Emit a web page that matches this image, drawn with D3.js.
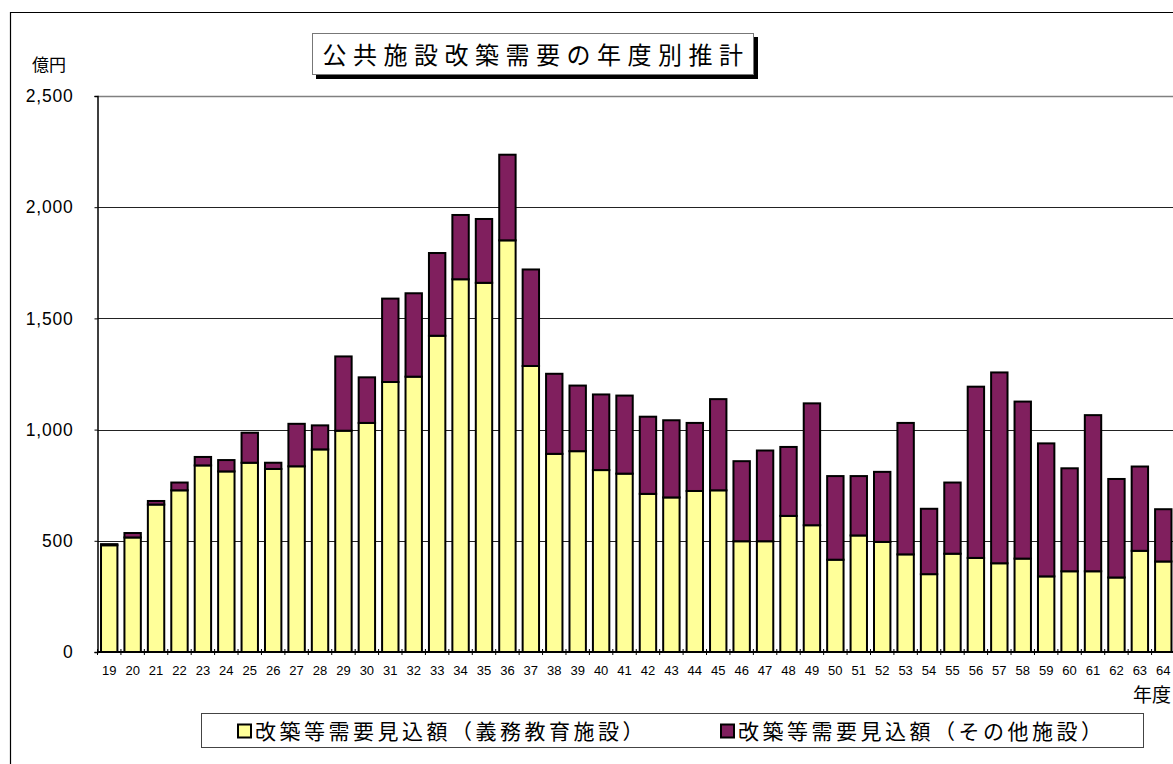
<!DOCTYPE html>
<html>
<head>
<meta charset="utf-8">
<script src="https://cdn.jsdelivr.net/npm/d3@7"></script>
<style>
  body { margin: 0; background: #fff; }
  svg { display: block; }
  .num { font-family: "Liberation Sans", Arial, sans-serif; fill: #000; }
  .jp { font-family: "Noto Sans CJK JP", sans-serif; fill: #000; }
</style>
</head>
<body>
<div id="chart"></div>
<script>
// data (億円)
var years = [19,20,21,22,23,24,25,26,27,28,29,30,31,32,33,34,35,36,37,38,39,40,41,42,43,44,45,46,47,48,49,50,51,52,53,54,55,56,57,58,59,60,61,62,63,64];
var gimuKyoiku = [480,515,663,727,839,812,851,823,835,911,995,1030,1214,1238,1422,1676,1660,1851,1286,891,903,818,802,711,695,724,727,498,498,612,570,415,524,495,439,350,442,423,399,420,340,363,363,335,455,407];
var sonota = [5,20,16,35,38,51,135,28,191,108,334,205,375,375,372,289,287,385,434,360,295,340,351,347,347,306,410,360,408,310,548,376,267,315,591,294,320,770,858,706,598,463,702,443,379,235];
var yTicks = [0,500,1000,1500,2000,2500];
var seriesNames = ["改築等需要見込額（義務教育施設）", "改築等需要見込額（その他施設）"];
var seriesColors = ["#FFFF99", "#801F5E"];
var titleText = "公共施設改築需要の年度別推計";

var W = 1173, H = 764;
var plot = {left: 97.5, right: 1175, top: 96, bottom: 652};

var svg = d3.select('#chart').append('svg')
    .attr('width', W)
    .attr('height', H);

// outer frame
svg.append('path')
    .attr('d', 'M10.5,' + H + 'V12.5H' + W)
    .attr('fill', 'none')
    .attr('stroke', '#000')
    .attr('stroke-width', 1.2);

// title box with drop shadow
svg.append('rect').attr('x', 316).attr('y', 37).attr('width', 442).attr('height', 42).attr('fill', '#000');
svg.append('rect').attr('x', 312.5).attr('y', 33.5).attr('width', 441).attr('height', 41)
    .attr('fill', '#fff').attr('stroke', '#777').attr('stroke-width', 1);
svg.append('text').attr('class', 'jp')
    .attr('x', 536).attr('y', 64)
    .attr('text-anchor', 'middle')
    .style('font-size', '24px')
    .style('letter-spacing', '6.5px')
    .text(titleText);

// scales
var x = d3.scaleBand()
    .domain(years)
    .range([plot.left, plot.right])
    .paddingInner(0.3)
    .paddingOuter(0.15);
var y = d3.scaleLinear()
    .domain([0, 2500])
    .range([plot.bottom, plot.top]);

// gridlines
svg.append('g').selectAll('line').data(yTicks.slice(1))
  .enter().append('line')
    .attr('x1', plot.left).attr('x2', W)
    .attr('y1', function(d) {return Math.round(y(d)) + 0.5;})
    .attr('y2', function(d) {return Math.round(y(d)) + 0.5;})
    .attr('stroke', function(d) {return d === 2500 ? '#808080' : '#222';})
    .attr('stroke-width', function(d) {return d === 2500 ? 1.5 : 1;});

// stacked bars
var rows = years.map(function(yr, i) {return {year: yr, a: gimuKyoiku[i], b: sonota[i]};});
var stack = d3.stack().keys(['a', 'b'])(rows);

svg.append('g').selectAll('g').data(stack)
  .enter().append('g')
    .attr('fill', function(d, i) {return seriesColors[i];})
  .selectAll('rect').data(function(d) {return d;})
  .enter().append('rect')
    .attr('x', function(d) {return x(d.data.year);})
    .attr('y', function(d) {return y(d[1]);})
    .attr('width', x.bandwidth())
    .attr('height', function(d) {return y(d[0]) - y(d[1]);})
    .attr('stroke', '#000')
    .attr('stroke-width', 2);

// y axis
var yAxis = d3.axisLeft(y).tickValues(yTicks).tickFormat(d3.format(',')).tickSize(3).tickPadding(21);
var gy = svg.append('g')
    .attr('transform', 'translate(' + plot.left + ',0)')
    .call(yAxis);
gy.select('.domain').attr('stroke', '#000').attr('stroke-width', 1.5);
gy.selectAll('.tick line').attr('stroke', '#000');
gy.selectAll('text').attr('class', 'num').style('font-size', '17.5px').style('letter-spacing', '0.8px');

// x axis
var xAxis = d3.axisBottom(x).tickSize(0).tickPadding(14);
var gx = svg.append('g')
    .attr('transform', 'translate(0,' + plot.bottom + ')')
    .call(xAxis);
gx.select('.domain').attr('d', 'M' + plot.left + ',0H' + W).attr('stroke', '#000').attr('stroke-width', 2);
gx.selectAll('text').attr('class', 'num').style('font-size', '13px');

// small tick marks between categories
var step = x.step();
svg.append('g').selectAll('line').data(years)
  .enter().append('line')
    .attr('x1', function(d) {return x(d) - step * 0.15;})
    .attr('x2', function(d) {return x(d) - step * 0.15;})
    .attr('y1', plot.bottom - 3)
    .attr('y2', plot.bottom + 3)
    .attr('stroke', '#000');

// unit labels
svg.append('text').attr('class', 'jp')
    .attr('x', 32).attr('y', 71)
    .style('font-size', '17px')
    .text('億円');
svg.append('text').attr('class', 'jp')
    .attr('x', 1171).attr('y', 702)
    .attr('text-anchor', 'end')
    .style('font-size', '19px')
    .text('年度');

// legend
var legend = svg.append('g');
legend.append('rect')
    .attr('x', 201.5).attr('y', 713.5).attr('width', 942).attr('height', 34)
    .attr('fill', '#fff').attr('stroke', '#444').attr('stroke-width', 1);
var legendX = [237, 720];
var items = legend.selectAll('g.item').data(seriesNames)
  .enter().append('g')
    .attr('transform', function(d, i) {return 'translate(' + legendX[i] + ',731)';});
items.append('rect')
    .attr('x', 1).attr('y', -6.5).attr('width', 13).attr('height', 13)
    .attr('fill', function(d, i) {return seriesColors[i];})
    .attr('stroke', '#000').attr('stroke-width', 2);
items.append('text').attr('class', 'jp')
    .attr('x', 18).attr('y', 8)
    .style('font-size', '21px')
    .style('letter-spacing', '3.5px')
    .text(function(d) {return d;});
</script>
</body>
</html>
